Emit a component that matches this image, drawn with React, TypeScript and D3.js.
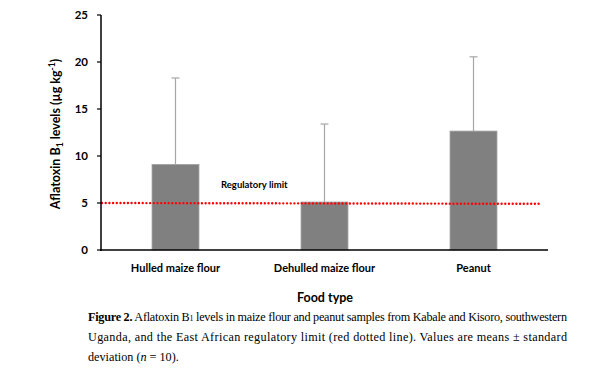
import React from "react";
import * as d3 from "d3";

const categories = ["Hulled maize flour", "Dehulled maize flour", "Peanut"];
const means = [9.1, 5.1, 12.65];
const sds = [9.2, 8.3, 7.9];
const yTicks = [0, 5, 10, 15, 20, 25];
const regulatoryLimit = 5;

const W = 600, H = 376;
const m = { left: 101, right: 52, top: 15, bottom: 126 };

export default function App() {
  const x = d3.scaleBand<string>().domain(categories).range([m.left, W - m.right]).paddingInner(0.685).paddingOuter(0.3425);
  const y = d3.scaleLinear().domain([0, 25]).range([H - m.bottom, m.top]);
  const chartFont = "Lato, 'Open Sans', sans-serif";
  const serif = "'Liberation Serif', 'DejaVu Serif', serif";
  const y0 = y(0);
  return (
    <div style={{ position: "absolute", left: 0, top: 0 }}>
      <svg width={W} height={H} style={{ display: "block", background: "#fff" }}>
        {categories.map((c, i) => (
          <rect key={c} x={x(c)} y={y(means[i])} width={x.bandwidth()} height={y0 - y(means[i])}
            fill="#808080" stroke="#a0a0a0" strokeWidth={0.8} />
        ))}
        {categories.map((c, i) => {
          const cx = (x(c) as number) + x.bandwidth() / 2;
          const top = y(means[i] + sds[i]);
          return (
            <g key={c + "e"} stroke="#a6a6a6" strokeWidth={1.2}>
              <line x1={cx} x2={cx} y1={y(means[i])} y2={top} />
              <line x1={cx - 4} x2={cx + 4} y1={top} y2={top} />
            </g>
          );
        })}
        <line x1={m.left + 1} x2={539} y1={y(regulatoryLimit)} y2={y(regulatoryLimit) + 0.8}
          stroke="#ff0000" strokeWidth={2.4} strokeDasharray="0 3.7" strokeLinecap="round" />
        <text x={221} y={y(regulatoryLimit) - 15} fontFamily={chartFont} fontWeight="bold" fontSize={9.5} fill="#000">Regulatory limit</text>
        <line x1={m.left} x2={m.left} y1={m.top} y2={y0 + 1} stroke="#000" strokeWidth={1.5} />
        <line x1={m.left - 1} x2={W - m.right} y1={y0} y2={y0} stroke="#000" strokeWidth={1.5} />
        {yTicks.map(t => (
          <g key={t}>
            <line x1={m.left - 4} x2={m.left} y1={y(t)} y2={y(t)} stroke="#000" strokeWidth={1.2} />
            <text x={m.left - 13} y={y(t)} dy="0.35em" textAnchor="end" fontFamily={chartFont} fontWeight="bold" fontSize={11.5} fill="#000">{t}</text>
          </g>
        ))}
        {categories.map(c => (
          <text key={c + "l"} x={(x(c) as number) + x.bandwidth() / 2} y={272} textAnchor="middle"
            fontFamily={chartFont} fontWeight="bold" fontSize={11} fill="#000">{c}</text>
        ))}
        <text transform={`translate(60,${134}) rotate(-90)`} textAnchor="middle" fontFamily={chartFont} fontWeight="bold" fontSize={12.5} fill="#000">
          Aflatoxin B<tspan fontSize={8.5} dy={3}>1</tspan><tspan dy={-3}> levels (µg kg</tspan><tspan fontSize={8.5} dy={-5}>-1</tspan><tspan dy={5}>)</tspan>
        </text>
        <text x={325} y={302} textAnchor="middle" fontFamily={chartFont} fontWeight="bold" fontSize={12.5} fill="#000">Food type</text>
        <text x={88} y={321} fontFamily={serif} fontSize={12.2} fill="#000" textLength={479} lengthAdjust="spacing">
          <tspan fontWeight="bold">Figure 2.</tspan> Aflatoxin B<tspan fontSize={8}>1</tspan> levels in maize flour and peanut samples from Kabale and Kisoro, southwestern
        </text>
        <text x={88} y={341} fontFamily={serif} fontSize={12.2} fill="#000" textLength={479} lengthAdjust="spacing">
          Uganda, and the East African regulatory limit (red dotted line). Values are means ± standard
        </text>
        <text x={88} y={361} fontFamily={serif} fontSize={12.2} fill="#000">
          deviation (<tspan fontStyle="italic">n</tspan> = 10).
        </text>
      </svg>
    </div>
  );
}
